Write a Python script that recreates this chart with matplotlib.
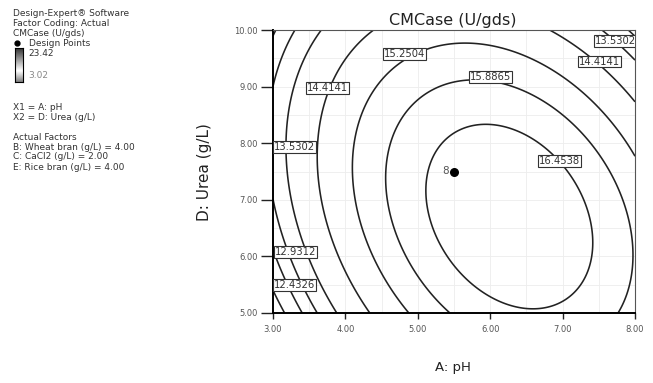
import numpy as np
import matplotlib
matplotlib.use("Agg")
import matplotlib.pyplot as plt
from matplotlib.lines import Line2D

# ---- data ----
# points read on each contour line (x = pH, y = Urea g/L) and the level of that line
trace_x = [6.55, 7.42, 5.13, 5.95, 6.96,
           5.44, 7.77, 7.96, 5.86, 4.59, 5.17, 7.54,
           4.89, 4.10, 5.62, 5.17, 8.00,
           4.36, 3.61, 4.37, 6.83, 8.00, 3.76,
           3.85, 3.19, 3.65, 7.52, 8.00, 3.23,
           3.59, 3.00, 3.00, 3.30,
           3.39, 3.00]
trace_y = [5.08, 6.24, 6.77, 8.34, 7.64,
           5.00, 5.00, 6.00, 9.15, 7.50, 8.90, 7.88,
           5.00, 7.50, 9.77, 9.65, 7.76,
           5.00, 7.50, 10.00, 10.00, 8.68, 8.82,
           5.00, 7.50, 10.00, 10.00, 9.44, 8.68,
           5.00, 7.00, 9.03, 10.00,
           5.00, 6.20]
trace_level = [16.4538] * 5 + [15.8865] * 7 + [15.2504] * 5 + [14.4141] * 6 + \
              [13.5302] * 6 + [12.9312] * 4 + [12.4326] * 2

contour_levels = [12.4326, 12.9312, 13.5302, 14.4141, 15.2504, 15.8865, 16.4538]
extra_line_point = (3.16, 5.00)   # unlabelled contour passing through this point

label_text = ["15.2504", "15.8865", "14.4141", "13.5302", "12.9312", "12.4326",
              "16.4538", "14.4141", "13.5302"]
label_x = [4.82, 6.00, 3.75, 3.30, 3.31, 3.30, 6.96, 7.51, 7.73]
label_y = [9.58, 9.17, 8.97, 7.93, 6.08, 5.49, 7.69, 9.44, 9.81]

design_x = [5.5]
design_y = [7.5]
design_lab = ["8"]

x_ticks = [3.0, 4.0, 5.0, 6.0, 7.0, 8.0]
y_ticks = [5.0, 6.0, 7.0, 8.0, 9.0, 10.0]

# ---- quadratic response surface fitted to the read contour points ----
tx, ty, tl = map(np.asarray, (trace_x, trace_y, trace_level))
A = np.column_stack([np.ones_like(tx), tx, ty, tx**2, ty**2, tx * ty])
w = np.ones_like(tx)
for _ in range(30):
    coef, *_ = np.linalg.lstsq(A * w[:, None], tl * w, rcond=None)
    gxv = coef[1] + 2*coef[3]*tx + coef[5]*ty
    gyv = coef[2] + 2*coef[4]*ty + coef[5]*tx
    w = 1.0 / np.maximum(np.hypot(gxv, gyv), 0.05)


def surf(x, y):
    return coef[0] + coef[1]*x + coef[2]*y + coef[3]*x**2 + coef[4]*y**2 + coef[5]*x*y


extra_level = float(surf(*extra_line_point))
levels = sorted(contour_levels + [extra_level])

gx = np.linspace(3, 8, 300)
gy = np.linspace(5, 10, 300)
GX, GY = np.meshgrid(gx, gy)
GZ = surf(GX, GY)

# ---- figure ----
fig = plt.figure(figsize=(6.53, 3.83), dpi=100)
ax = fig.add_axes([273/653, 1-313/383, (635-273)/653, (313-30)/383])

for v in np.arange(3.0, 8.01, 0.5):
    ax.axvline(v, color="#ededed", lw=0.6, zorder=0)
for v in np.arange(5.0, 10.01, 0.5):
    ax.axhline(v, color="#ededed", lw=0.6, zorder=0)

ax.contour(GX, GY, GZ, levels=levels, colors="#222222", linewidths=1.15, zorder=2)

for t, lx, ly in zip(label_text, label_x, label_y):
    ax.text(lx, ly, t, fontsize=7.2, ha="center", va="center", color="#333333",
            zorder=4, clip_on=True,
            bbox=dict(boxstyle="square,pad=0.08", fc="white", ec="#333333", lw=0.8))

ax.scatter(design_x, design_y, s=30, color="black", zorder=5)
for dx, dy, dl in zip(design_x, design_y, design_lab):
    ax.text(dx - 0.07, dy, dl, fontsize=7.5, ha="right", va="center", color="#555555")

ax.set_xlim(3, 8)
ax.set_ylim(5, 10)
ax.set_xticks(x_ticks)
ax.set_yticks(y_ticks)
ax.set_xticklabels([f"{v:.2f}" for v in x_ticks])
ax.set_yticklabels([f"{v:.2f}" for v in y_ticks])
ax.tick_params(axis="x", length=4, width=1.0, labelsize=6, colors="#222222",
               labelcolor="#555555", pad=5)
ax.tick_params(axis="y", length=9, width=1.0, labelsize=6, colors="#222222",
               labelcolor="#555555", pad=2)
ax.spines["left"].set_linewidth(1.4)
ax.spines["bottom"].set_linewidth(1.4)
ax.spines["top"].set_linewidth(0.8)
ax.spines["right"].set_linewidth(0.8)
ax.spines["top"].set_color("#555555")
ax.spines["right"].set_color("#555555")

fig.text(453/653, 1-20/383, "CMCase (U/gds)", fontsize=11.5, ha="center", va="center",
         color="#222222")
fig.text(453/653, 1-368/383, "A: pH", fontsize=9.5, ha="center", va="center", color="#222222")
fig.text(205/653, 1-172/383, "D: Urea (g/L)", fontsize=11, ha="center", va="center",
         rotation=90, color="#222222")

# ---- left info panel ----
fs = 6.5
col = "#333333"


def ftxt(x, y, s, color=col):
    fig.text(x/653, 1-y/383, s, fontsize=fs, ha="left", va="center", color=color)


ftxt(13, 13, "Design-Expert® Software")
ftxt(13, 23, "Factor Coding: Actual")
ftxt(13, 33, "CMCase (U/gds)")
fig.lines.append(Line2D([17/653], [1-43/383], marker="o", ms=3.5,
                        color="black", transform=fig.transFigure))
ftxt(29, 43, "Design Points")
cax = fig.add_axes([15/653, 1-82/383, 8/653, 34/383])
grad = np.concatenate([np.linspace(0.2, 1.0, 40), np.linspace(1.0, 0.5, 20)])[:, None]
cax.imshow(grad, cmap="gray", vmin=0, vmax=1, aspect="auto")
cax.set_xticks([]); cax.set_yticks([])
for s in cax.spines.values():
    s.set_linewidth(0.8)
ftxt(28, 53, "23.42")
ftxt(28, 75, "3.02", color="#888888")
ftxt(13, 107, "X1 = A: pH")
ftxt(13, 117, "X2 = D: Urea (g/L)")
ftxt(13, 137, "Actual Factors")
ftxt(13, 147, "B: Wheat bran (g/L) = 4.00")
ftxt(13, 157, "C: CaCl2 (g/L) = 2.00")
ftxt(13, 168, "E: Rice bran (g/L) = 4.00")

fig.savefig("out.png", dpi=100)
